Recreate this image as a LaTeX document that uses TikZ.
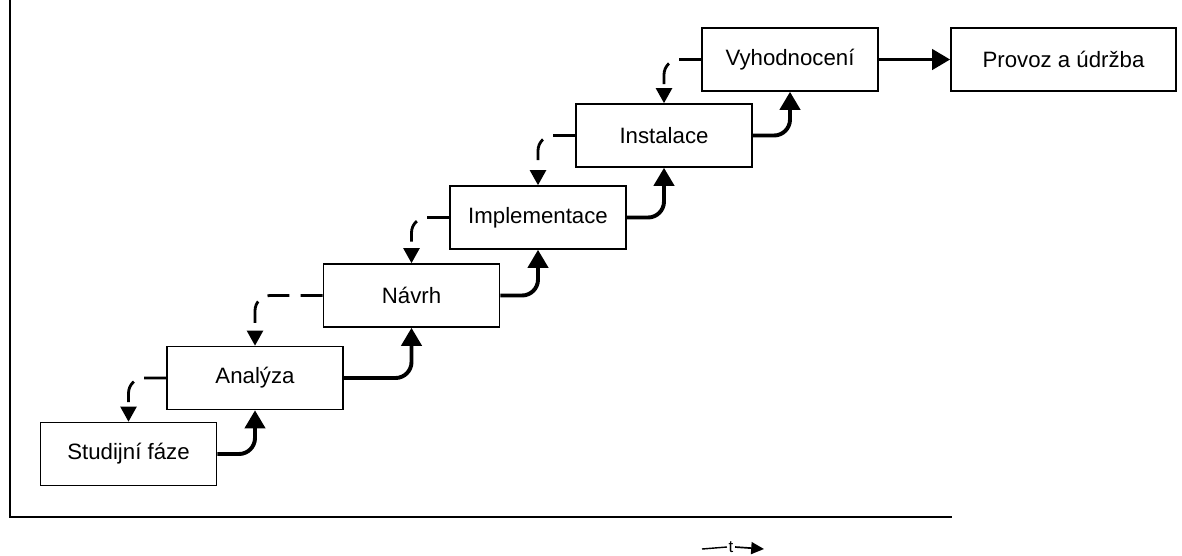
\documentclass[tikz,border=0pt]{standalone}
\usepackage{fontspec}
\setmainfont{Liberation Sans}
\usetikzlibrary{arrows.meta}

\begin{document}
\begin{tikzpicture}[x=0.025cm,y=-0.025cm,
  phase/.style={draw,line width=1.1pt,minimum width=4.4cm,minimum height=1.575cm,inner sep=0pt,font=\fontsize{15.8}{18}\selectfont},
  fwd/.style={line width=2.8pt,rounded corners=0.4cm,-{Triangle[width=0.5cm,length=0.45cm]}},
  back/.style={line width=2pt,dash pattern=on 0.55cm off 0.28cm,rounded corners=0.38cm,-{Triangle[width=0.4cm,length=0.38cm]}}]
\useasboundingbox (0,0) rectangle (1182,555);
% axes
\draw[line width=1.1pt] (10,0) |- (952,517);
% phases
\node[phase] (stud) at (128.5,454) {Studijní fáze};
\node[phase] (anal) at (255,378) {Analýza};
\node[phase] (navrh) at (411.5,295.5) {Návrh};
\node[phase] (impl) at (538,217.5) {Implementace};
\node[phase] (inst) at (664,135.5) {Instalace};
\node[phase] (vyh) at (790,59.5) {Vyhodnocení};
\node[phase,minimum width=5.625cm] (prov) at (1063.5,59.5) {Provoz a údržba};
% forward
\draw[fwd] (stud.east) -| (anal.south);
\draw[fwd] (anal.east) -| (navrh.south);
\draw[fwd] (navrh.east) -| (impl.south);
\draw[fwd] (impl.east) -| (inst.south);
\draw[fwd] (inst.east) -| (vyh.south);
\draw[fwd] (vyh.east) -- (prov.west);
% feedback
\draw[back] (anal.west) -| (stud.north);
\draw[back] (navrh.west) -| (anal.north);
\draw[back] (impl.west) -| (navrh.north);
\draw[back] (inst.west) -| (impl.north);
\draw[back] (vyh.west) -| (inst.north);
% time
\node[inner sep=1pt,font=\fontsize{12}{14}\selectfont] (tlab) at (731,547) {t};
\coordinate (tleft) at (702,549);
\coordinate (tright) at (764,549);
\draw[line width=1pt] (tleft) -- (tlab.west);
\draw[line width=1.2pt,-{Triangle[width=0.3cm,length=0.32cm]}] (tlab.east) -- (tright);
\end{tikzpicture}
\end{document}
